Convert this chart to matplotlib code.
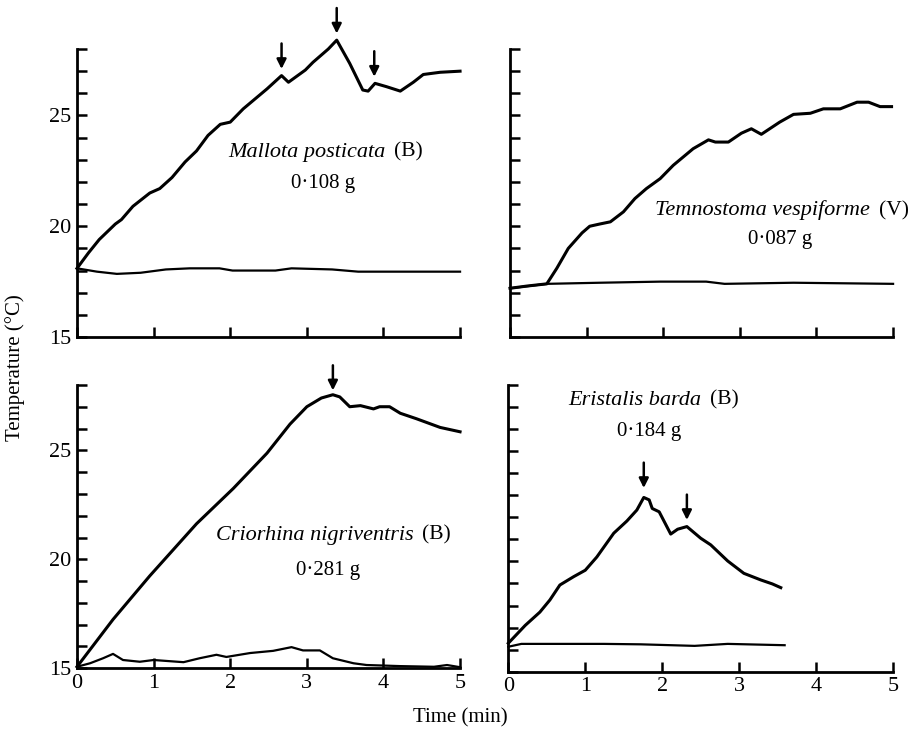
"""
Warm-up curves of four hoverflies: thoracic temperature (upper trace)
and the second trace (lower) against time, one panel per species.
Arrows mark points noted on the original record.
"""

import matplotlib

matplotlib.use("Agg")
import matplotlib.pyplot as plt
from matplotlib.offsetbox import AnnotationBbox, HPacker, TextArea
from matplotlib.ticker import FixedLocator, FuncFormatter

plt.rcParams["font.family"] = ["Liberation Serif", "DejaVu Serif"]

# ---------------------------------------------------------------------------
# Traces: time (min), temperature (degC)
# ---------------------------------------------------------------------------
# Mallota posticata (B), 0.108 g
MALLOTA_T_UP = [0.0, 0.15, 0.29, 0.50, 0.58, 0.73, 0.95, 1.08, 1.24, 1.41, 1.56,
                1.71, 1.87, 2.00, 2.17, 2.48, 2.67, 2.76, 2.98, 3.08, 3.28, 3.39,
                3.56, 3.73, 3.80, 3.89, 4.04, 4.22, 4.39, 4.52, 4.74, 5.00]
MALLOTA_UP = [18.1, 18.8, 19.4, 20.1, 20.3, 20.9, 21.5, 21.7, 22.2, 22.9, 23.4,
              24.1, 24.6, 24.7, 25.3, 26.2, 26.8, 26.5, 27.05, 27.4, 28.0, 28.4,
              27.35, 26.15, 26.1, 26.45, 26.3, 26.1, 26.5, 26.85, 26.95, 27.0]
MALLOTA_T_LO = [0.0, 0.26, 0.52, 0.83, 1.16, 1.47, 1.86, 2.03, 2.59, 2.80, 3.33,
                3.67, 5.00]
MALLOTA_LO = [18.1, 17.95, 17.85, 17.9, 18.05, 18.1, 18.1, 18.0, 18.0, 18.1,
              18.05, 17.95, 17.95]
MALLOTA_ARROWS = [2.67, 3.39, 3.88]
MALLOTA_ARROW_TIPS = [27.1, 28.7, 26.75]

# Temnostoma vespiforme (V), 0.087 g
TEMNO_T_UP = [0.0, 0.22, 0.48, 0.61, 0.76, 0.94, 1.04, 1.17, 1.31, 1.48, 1.63,
              1.78, 1.96, 2.13, 2.39, 2.59, 2.68, 2.85, 3.02, 3.15, 3.28, 3.52,
              3.70, 3.92, 4.09, 4.31, 4.53, 4.68, 4.83, 4.98]
TEMNO_UP = [17.2, 17.3, 17.4, 18.1, 19.0, 19.7, 20.0, 20.1, 20.2, 20.65, 21.25,
            21.7, 22.15, 22.75, 23.5, 23.9, 23.8, 23.8, 24.2, 24.4, 24.15, 24.7,
            25.05, 25.1, 25.3, 25.3, 25.6, 25.6, 25.4, 25.4]
TEMNO_T_LO = [0.0, 0.48, 1.17, 1.96, 2.56, 2.80, 3.70, 5.00]
TEMNO_LO = [17.2, 17.4, 17.45, 17.5, 17.5, 17.4, 17.45, 17.4]

# Criorhina nigriventris (B), 0.281 g
CRIO_T_UP = [0.0, 0.47, 0.95, 1.56, 2.04, 2.48, 2.78, 3.00, 3.19, 3.34, 3.43,
             3.56, 3.70, 3.87, 3.95, 4.08, 4.22, 4.43, 4.74, 5.00]
CRIO_UP = [15.07, 17.24, 19.24, 21.63, 23.25, 24.87, 26.2, 27.0, 27.4, 27.55,
           27.45, 27.0, 27.05, 26.9, 27.0, 27.0, 26.7, 26.45, 26.05, 25.85]
CRIO_T_LO = [0.0, 0.17, 0.34, 0.47, 0.60, 0.82, 1.00, 1.39, 1.60, 1.82, 1.95,
             2.26, 2.56, 2.80, 2.95, 3.17, 3.34, 3.61, 3.78, 4.22, 4.66, 4.83,
             5.00]
CRIO_LO = [15.07, 15.23, 15.46, 15.66, 15.38, 15.3, 15.38, 15.28, 15.46, 15.62,
           15.52, 15.7, 15.8, 15.97, 15.82, 15.82, 15.46, 15.23, 15.15, 15.1,
           15.07, 15.15, 15.05]
CRIO_ARROWS = [3.34]
CRIO_ARROW_TIPS = [27.75]

# Eristalis barda (B), 0.184 g
ERIS_T_UP = [0.0, 0.22, 0.41, 0.54, 0.67, 0.85, 1.00, 1.15, 1.37, 1.54, 1.67,
             1.76, 1.83, 1.87, 1.96, 2.11, 2.20, 2.32, 2.50, 2.63, 2.85, 3.06,
             3.28, 3.43, 3.54]
ERIS_UP = [16.29, 17.1, 17.7, 18.25, 18.93, 19.31, 19.6, 20.2, 21.28, 21.83,
           22.33, 22.9, 22.79, 22.4, 22.25, 21.24, 21.46, 21.58, 21.05, 20.75,
           20.02, 19.46, 19.16, 18.98, 18.81]
ERIS_T_LO = [0.0, 0.17, 1.24, 1.72, 2.42, 2.85, 3.59]
ERIS_LO = [16.13, 16.26, 16.26, 16.24, 16.17, 16.26, 16.2]
ERIS_ARROWS = [1.76, 2.32]
ERIS_ARROW_TIPS = [23.33, 21.88]

PANELS = [
    # name, group, mass, traces, arrows, label positions, axes rect,
    # y tick labels?, x tick labels?
    ("Mallota posticata", "(B)", "0\u00b7108 g",
     MALLOTA_T_UP, MALLOTA_UP, MALLOTA_T_LO, MALLOTA_LO,
     MALLOTA_ARROWS, MALLOTA_ARROW_TIPS, (3.24, 23.35), (3.21, 21.95),
     [0.0838, 0.5421, 0.4168, 0.3913], True, False),
    ("Temnostoma vespiforme", "(V)", "0\u00b7087 g",
     TEMNO_T_UP, TEMNO_UP, TEMNO_T_LO, TEMNO_LO,
     [], [], (3.55, 20.73), (3.52, 19.4),
     [0.555, 0.5421, 0.4168, 0.3913], False, False),
    ("Criorhina nigriventris", "(B)", "0\u00b7281 g",
     CRIO_T_UP, CRIO_UP, CRIO_T_LO, CRIO_LO,
     CRIO_ARROWS, CRIO_ARROW_TIPS, (3.35, 21.1), (3.28, 19.47),
     [0.0838, 0.0920, 0.4168, 0.385], True, True),
    ("Eristalis barda", "(B)", "0\u00b7184 g",
     ERIS_T_UP, ERIS_UP, ERIS_T_LO, ERIS_LO,
     ERIS_ARROWS, ERIS_ARROW_TIPS, (1.89, 27.32), (1.83, 25.88),
     [0.5531, 0.0874, 0.4188, 0.3895], False, True),
]

FONT = 15
ARROW_LEN = 1.15  # degC


def draw_panel(fig, spec):
    (name, group, mass, t_up, up, t_lo, lo, arrows, tips,
     name_xy, mass_xy, rect, ylabels, xlabels) = spec
    ax = fig.add_axes(rect)
    ax.plot(t_up, up, color="black", lw=2.2, clip_on=False,
            solid_joinstyle="round")
    ax.plot(t_lo, lo, color="black", lw=1.6, clip_on=False,
            solid_joinstyle="round")

    for x, tip in zip(arrows, tips):
        ax.annotate("", xy=(x, tip), xytext=(x, tip + ARROW_LEN),
                    arrowprops=dict(arrowstyle="-|>", color="black", lw=1.8,
                                    mutation_scale=14, shrinkA=0, shrinkB=0),
                    annotation_clip=False)

    # species name in italics followed by the group letter, centred as one
    label = HPacker(children=[
        TextArea(name, textprops=dict(fontsize=FONT + 1, style="italic")),
        TextArea(group, textprops=dict(fontsize=FONT + 0.5)),
    ], sep=6, pad=0, align="baseline")
    ax.add_artist(AnnotationBbox(label, name_xy, frameon=False,
                                 box_alignment=(0.5, 0.5), pad=0))
    ax.text(*mass_xy, mass, ha="center", va="center", fontsize=FONT)

    ax.set_xlim(0, 5)
    ax.set_ylim(15, 28)
    for side in ("top", "right"):
        ax.spines[side].set_visible(False)
    for side in ("left", "bottom"):
        ax.spines[side].set_linewidth(2.0)

    ax.xaxis.set_major_locator(FixedLocator(range(0, 6)))
    ax.yaxis.set_major_locator(FixedLocator(range(15, 29)))
    ax.tick_params(direction="in", length=7, width=1.8, labelsize=FONT + 1,
                   pad=4)
    if ylabels:
        ax.yaxis.set_major_formatter(
            FuncFormatter(lambda v, _: f"{v:.0f}" if v % 5 == 0 else ""))
    else:
        ax.set_yticklabels([])
    if not xlabels:
        ax.set_xticklabels([])
    return ax


def main():
    fig = plt.figure(figsize=(9.19, 7.36), dpi=100)
    for spec in PANELS:
        draw_panel(fig, spec)

    fig.text(15 / 919, 1 - 368 / 736, "Temperature (\u00b0C)", rotation=90,
             ha="center", va="center", fontsize=FONT)
    fig.text(460 / 919, 1 - 718 / 736, "Time (min)", ha="center",
             va="center", fontsize=FONT)

    fig.savefig("out.png", dpi=100)
    plt.close(fig)


if __name__ == "__main__":
    main()
